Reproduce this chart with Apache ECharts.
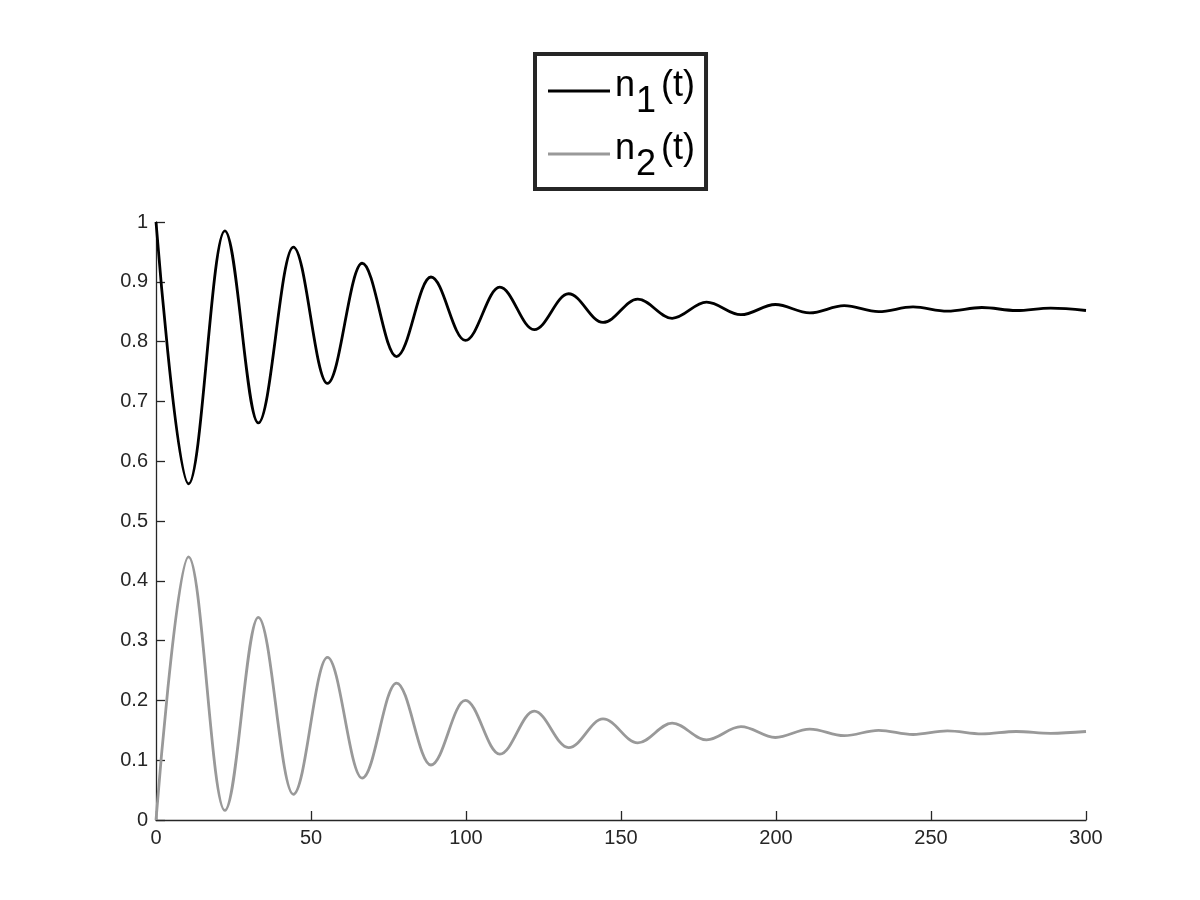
<!DOCTYPE html>
<html>
<head>
<meta charset="utf-8">
<script src="https://cdn.jsdelivr.net/npm/echarts@6/dist/echarts.min.js"></script>
<style>
  html, body { margin: 0; background: #ffffff; }
  #main { width: 1200px; height: 900px; }
</style>
</head>
<body>
<div id="main"></div>
<script>
// turning points (t, n1, n2)
const times = [0, 10.5, 22.2, 33, 44.3, 55.3, 66.5, 77.6, 88.7, 99.8, 110.9, 122, 133.1, 144.2,
  155.4, 166.5, 177.6, 188.7, 199.8, 210.9, 222, 233.1, 244.2, 255.3, 266.4, 277.5, 288.6, 300];
const n1 = [1, 0.562, 0.985, 0.664, 0.958, 0.730, 0.931, 0.775, 0.908, 0.802, 0.891, 0.820, 0.880, 0.832,
  0.871, 0.839, 0.866, 0.845, 0.862, 0.848, 0.860, 0.850, 0.858, 0.851, 0.857, 0.852, 0.856, 0.852];
const n2 = [0, 0.440, 0.016, 0.339, 0.043, 0.272, 0.070, 0.229, 0.092, 0.200, 0.110, 0.182, 0.121, 0.169,
  0.129, 0.162, 0.134, 0.156, 0.138, 0.152, 0.141, 0.150, 0.143, 0.149, 0.144, 0.148, 0.145, 0.148];
const seriesNames = ['n1', 'n2'];
const subscripts = ['1', '2'];

const font = '"Liberation Sans", Arial, Helvetica, sans-serif';
const axisColor = '#262626';

let chart = echarts.init(document.getElementById('main'));

const axisCommon = {
  type: 'value',
  axisLine: { show: true, lineStyle: { color: axisColor, width: 1.3 } },
  axisTick: { show: true, inside: true, length: 9, lineStyle: { color: axisColor, width: 1.3 } },
  axisLabel: { color: axisColor, fontSize: 20, fontFamily: font, margin: 8 },
  splitLine: { show: false }
};

chart.setOption({
  animation: false,
  backgroundColor: '#ffffff',
  grid: { left: 156, right: 114, top: 222, bottom: 80 },
  legend: {
    orient: 'vertical',
    left: 535,
    top: 54,
    padding: [14, 11, 6, 13],
    borderColor: axisColor,
    borderWidth: 4,
    icon: 'rect',
    itemWidth: 62,
    itemHeight: 3,
    itemGap: 11,
    data: seriesNames,
    formatter: name => '{m|n}{s|' + subscripts[seriesNames.indexOf(name)] + '}{m|(t)}',
    textStyle: {
      rich: {
        m: { fontSize: 36, fontFamily: font, color: '#000000', verticalAlign: 'top', padding: [6, 0, 0, 0] },
        s: { fontSize: 36, fontFamily: font, color: '#000000', padding: [22, 5, 0, 1] }
      }
    }
  },
  xAxis: Object.assign({}, axisCommon, { min: 0, max: 300, interval: 50 }),
  yAxis: Object.assign({}, axisCommon, { min: 0, max: 1, interval: 0.1 }),
  series: [
    {
      name: seriesNames[0],
      type: 'line',
      data: times.map((t, i) => [t, n1[i]]),
      symbol: 'none',
      smooth: 0.36,
      smoothMonotone: 'x',
      lineStyle: { color: '#000000', width: 2.8 },
      itemStyle: { color: '#000000' }
    },
    {
      name: seriesNames[1],
      type: 'line',
      data: times.map((t, i) => [t, n2[i]]),
      symbol: 'none',
      smooth: 0.36,
      smoothMonotone: 'x',
      lineStyle: { color: '#999999', width: 2.8 },
      itemStyle: { color: '#999999' }
    }
  ]
});
</script>
</body>
</html>
